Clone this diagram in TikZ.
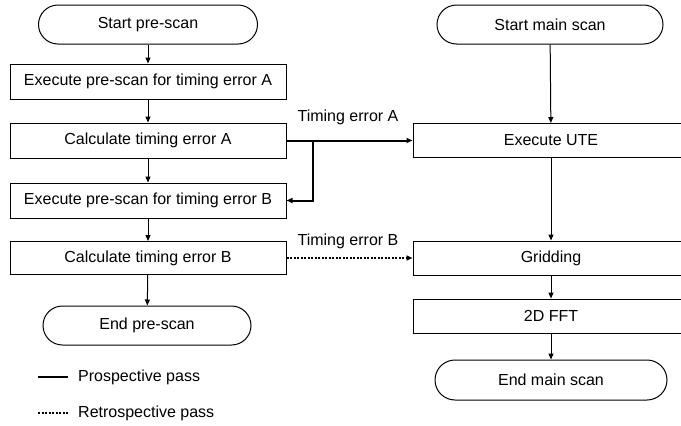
\documentclass[tikz,border=0pt]{standalone}
\usepackage{fontspec}
\setmainfont{Liberation Sans}
\usetikzlibrary{shapes.misc,arrows.meta}
\begin{document}
\begin{tikzpicture}[x=1pt,y=-1pt,
  every node/.style={font=\fontsize{16}{19}\selectfont},
  procbox/.style={draw, line width=1pt, minimum width=276pt, minimum height=35pt, inner sep=0pt},
  termbox/.style={draw, line width=1pt, rounded rectangle, minimum height=39pt, inner sep=0pt},
  flow/.style={line width=1pt, -{Triangle[length=6pt,width=5pt]}},
  strong/.style={line width=2pt},
  retro/.style={line width=2.4pt, dash pattern=on 2pt off 1.5pt},
  lbl/.style={inner sep=0pt}]
\useasboundingbox (0,0) rectangle (681,426);
\clip (0,0) rectangle (681,426);
% left column
\node[termbox, minimum width=219pt] (sps) at (148,24.5) {Start pre-scan};
\node[procbox] (exA) at (148,81.5) {Execute pre-scan for timing error A};
\node[procbox] (calA) at (148,140.5) {Calculate timing error A};
\node[procbox] (exB) at (148,200.5) {Execute pre-scan for timing error B};
\node[procbox, minimum height=33pt] (calB) at (148,258) {Calculate timing error B};
\node[termbox, minimum width=208pt] (eps) at (147,325.5) {End pre-scan};
% right column
\node[termbox, minimum width=226pt] (sms) at (550,24.5) {Start main scan};
\node[procbox, minimum height=34pt] (ute) at (551,140.5) {Execute UTE};
\node[procbox, minimum height=34pt] (grid) at (551,258) {Gridding};
\node[procbox, minimum height=34pt] (fft) at (551,316) {2D FFT};
\node[termbox, minimum width=232pt, minimum height=40pt] (ems) at (551,380) {End main scan};
% flows
\draw[flow] (sps) -- (exA);
\draw[flow] (exA) -- (calA);
\draw[flow] (calA) -- (exB);
\draw[flow] (exB) -- (calB);
\draw[flow] (calB) -- (eps);
\draw[flow] (sms) -- (ute);
\draw[flow] (ute) -- (grid);
\draw[flow] (grid) -- (fft);
\draw[flow] (fft) -- (ems);
% timing error A
\coordinate (j) at (313,140.5);
\draw[strong, -{Triangle[length=6pt,width=5pt]}] (calA.east) -- (ute.west);
\draw[strong, -{Triangle[length=6pt,width=5pt]}] (j) |- (exB.east);
\node[lbl] (tA) at (348,117) {Timing error A};
% timing error B
\draw[retro, -{Triangle[length=6pt,width=5pt]}] (calB.east) -- (grid.west);
\node[lbl] (tB) at (348,241) {Timing error B};
% legend
\coordinate (l1a) at (38,377);
\coordinate (l1b) at (68,377);
\draw[line width=1.5pt] (l1a) -- (l1b);
\node[lbl, anchor=west] (lp) at (78,377) {Prospective pass};
\coordinate (l2a) at (38,413);
\coordinate (l2b) at (68,413);
\draw[retro] (l2a) -- (l2b);
\node[lbl, anchor=west] (lr) at (78,413) {Retrospective pass};
\end{tikzpicture}
\end{document}
